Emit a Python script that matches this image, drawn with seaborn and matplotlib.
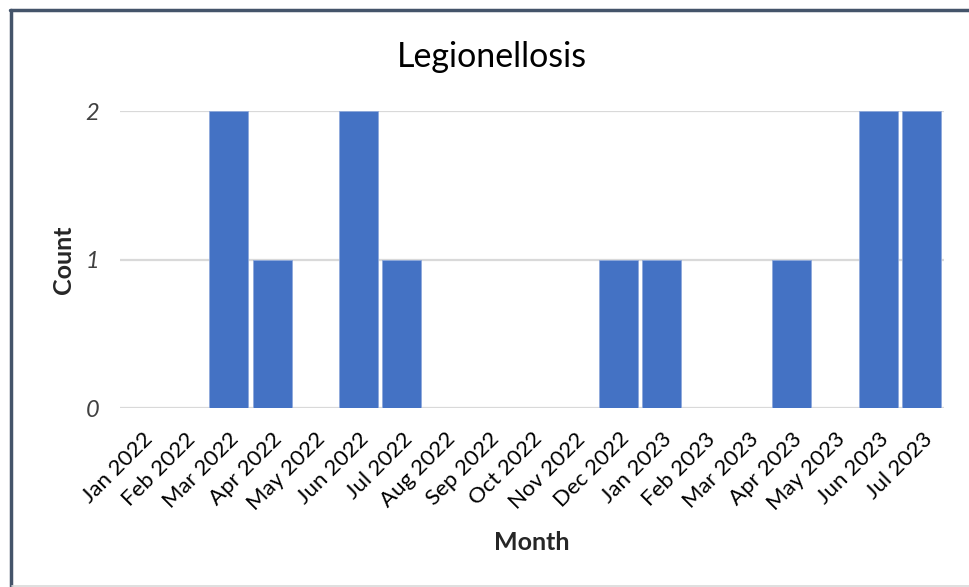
import matplotlib
matplotlib.use("Agg")
import matplotlib.pyplot as plt
import seaborn as sns
import pandas as pd
from matplotlib.lines import Line2D

months = ["Jan 2022", "Feb 2022", "Mar 2022", "Apr 2022", "May 2022", "Jun 2022",
          "Jul 2022", "Aug 2022", "Sep 2022", "Oct 2022", "Nov 2022", "Dec 2022",
          "Jan 2023", "Feb 2023", "Mar 2023", "Apr 2023", "May 2023", "Jun 2023",
          "Jul 2023"]
counts = [0, 0, 2, 1, 0, 2, 1, 0, 0, 0, 0, 1, 1, 0, 0, 1, 0, 2, 2]
y_ticks = [0, 1, 2]

df = pd.DataFrame({"Month": months, "Count": counts})

sns.set_theme(style="white")
plt.rcParams["font.family"] = ["Lato", "DejaVu Sans"]

fig = plt.figure(figsize=(9.69, 5.87), dpi=100)
ax = fig.add_axes([0.1242, 0.3049, 0.8496, 0.506])

sns.barplot(data=df, x="Month", y="Count", color="#4472C4", width=0.9,
            edgecolor="#8FA9DC", linewidth=0.6, saturation=1, ax=ax, zorder=3)

ax.set_ylim(0, 2)
ax.set_yticks(y_ticks)
ax.set_yticklabels([str(v) for v in y_ticks], fontsize=17, style="italic", color="#404040")
ax.grid(axis="y", color="#D9D9D9", linewidth=1.6, zorder=0)
ax.set_axisbelow(True)
for s in ax.spines.values():
    s.set_visible(False)
ax.tick_params(axis="both", length=0)
ax.tick_params(axis="y", pad=15)
ax.tick_params(axis="x", pad=15)
for lab in ax.get_xticklabels():
    lab.set_rotation(45)
    lab.set_ha("right")
    lab.set_rotation_mode("anchor")
    lab.set_fontsize(16)
    lab.set_color("#000000")

ax.set_xlabel("Month", fontsize=18, fontweight="bold", labelpad=12)
ax.set_ylabel("Count", fontsize=18, fontweight="bold", labelpad=8)

W, H = 969, 587
fig.text(492 / W, 1 - 57 / H, "Legionellosis", fontsize=24.5, ha="center", va="center",
         color="#000000")

# frame of the chart
fig.add_artist(Line2D([10.5 / W, 10.5 / W], [0, 1 - 10 / H], color="#44546A", linewidth=2.5,
                      transform=fig.transFigure))
fig.add_artist(Line2D([9.5 / W, 1], [1 - 10 / H, 1 - 10 / H], color="#44546A", linewidth=2.5,
                      transform=fig.transFigure))
fig.add_artist(Line2D([12 / W, 1], [1.5 / H, 1.5 / H], color="#D9D9D9", linewidth=1.2,
                      transform=fig.transFigure))

fig.savefig("out.png", dpi=100, facecolor="white")
